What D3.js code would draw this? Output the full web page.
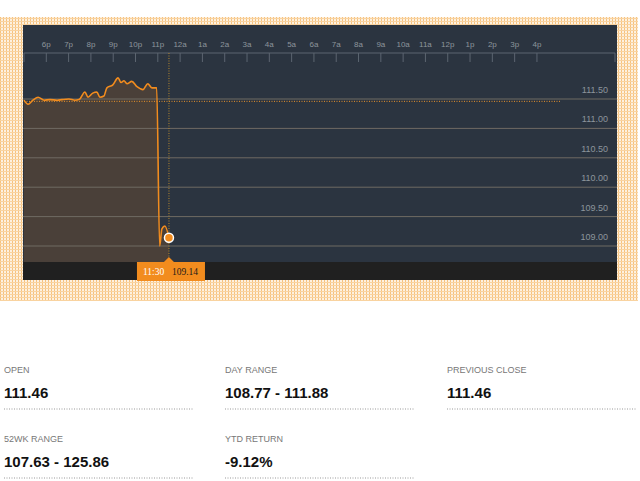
<!DOCTYPE html>
<html><head><meta charset="utf-8">
<script src="https://cdn.jsdelivr.net/npm/d3@7"></script>
<style>body{margin:0;background:#fff;font-family:"Helvetica Neue",Arial,"Liberation Sans",sans-serif}</style>
</head><body><div id="chart"></div>
<script>
// intraday prices (time, price)
var times = ["17:00","17:11","17:24","17:38","17:54","18:10","18:29","18:42","19:01","19:17","19:28","19:44","19:52","20:05","20:16","20:24","20:35","20:43","20:59","21:13","21:21","21:29","21:37","21:50","22:04","22:20","22:33","22:44","22:55","22:57","23:05","23:11","23:19","23:30"];
var prices = [111.48,111.41,111.48,111.53,111.48,111.49,111.48,111.49,111.50,111.48,111.49,111.62,111.53,111.60,111.62,111.53,111.55,111.69,111.74,111.86,111.78,111.81,111.76,111.80,111.71,111.66,111.76,111.69,111.69,111.69,109.00,109.29,109.34,109.14];
var hourLabels = ["6p","7p","8p","9p","10p","11p","12a","1a","2a","3a","4a","5a","6a","7a","8a","9a","10a","11a","12p","1p","2p","3p","4p"];
var yTicks = [109.0,109.5,110.0,110.5,111.0,111.5];
var prevClose = 111.46;
var statLabels = ["OPEN","DAY RANGE","PREVIOUS CLOSE","52WK RANGE","YTD RETURN"];
var statValues = ["111.46","108.77 - 111.88","111.46","107.63 - 125.86","-9.12%"];

var svg = d3.select("#chart").append("svg").attr("width",640).attr("height",481);

// dotted orange backdrop
var pat = svg.append("defs").append("pattern").attr("id","dots")
  .attr("width",3).attr("height",3).attr("patternUnits","userSpaceOnUse");
pat.append("rect").attr("width",3).attr("height",3).attr("fill","#fdf1e0");
pat.append("rect").attr("width",1).attr("height",3).attr("fill","#f7c27e");
pat.append("rect").attr("width",3).attr("height",1).attr("fill","#f9d3a0");
svg.append("rect").attr("x",0).attr("y",17).attr("width",638).attr("height",284).attr("fill","url(#dots)");

var pLeft = 23, pRight = 617, pTop = 25, pBottom = 280, plotBottom = 262;
svg.append("rect").attr("x",pLeft).attr("y",pTop).attr("width",pRight-pLeft).attr("height",pBottom-pTop).attr("fill","#2b3440");
svg.append("rect").attr("x",pLeft).attr("y",plotBottom).attr("width",pRight-pLeft).attr("height",pBottom-plotBottom).attr("fill","#202020");

var parse = d3.timeParse("%Y-%m-%d %H:%M");
function toDate(t){ var h=+t.split(":")[0]; return parse((h>=17?"2020-01-01 ":"2020-01-02 ")+t); }
var data = times.map(function(t,i){ return {t: toDate(t), v: prices[i]}; });

var x = d3.scaleTime().domain([parse("2020-01-01 17:00"), parse("2020-01-02 19:30")]).range([24, 615]);
var y = d3.scaleLinear().domain([109.0,111.5]).range([246,99]);

// hour ticks
var hours = hourLabels.map(function(d,i){ return d3.timeHour.offset(parse("2020-01-01 18:00"), i); });
svg.append("line").attr("x1",24).attr("x2",615).attr("y1",53).attr("y2",53).attr("stroke","#5c6570");
svg.selectAll(".tk").data([parse("2020-01-01 17:00")].concat(hours)).enter().append("line")
  .attr("x1",d=>x(d)).attr("x2",d=>x(d)).attr("y1",53).attr("y2",62).attr("stroke","#5c6570");
svg.append("line").attr("x1",615).attr("x2",615).attr("y1",53).attr("y2",62).attr("stroke","#5c6570");
svg.selectAll(".hl").data(hours).enter().append("text")
  .attr("x",d=>x(d)).attr("y",47).attr("text-anchor","middle")
  .attr("font-size",8).attr("fill","#8d949c").text((d,i)=>hourLabels[i]);

// area
svg.append("path").datum(data)
  .attr("d", d3.area().x(d=>x(d.t)).y0(plotBottom).y1(d=>y(d.v)))
  .attr("fill","#4a4039");

// grid
svg.selectAll(".gl").data(yTicks).enter().append("line")
  .attr("x1",pLeft).attr("x2",pRight).attr("y1",d=>y(d)).attr("y2",d=>y(d))
  .attr("stroke","#6f6a63").attr("stroke-width",1);
svg.selectAll(".yl").data(yTicks).enter().append("text")
  .attr("x",608).attr("y",d=>y(d)-6).attr("text-anchor","end")
  .attr("font-size",9).attr("fill","#8d949c").text(d=>d.toFixed(2));

// previous close
svg.append("line").attr("x1",24).attr("x2",560).attr("y1",y(prevClose)).attr("y2",y(prevClose))
  .attr("stroke","#e8912a").attr("stroke-dasharray","1,1.5").attr("stroke-width",1);

var last = data[data.length-1];
svg.append("line").attr("x1",x(last.t)).attr("x2",x(last.t)).attr("y1",53).attr("y2",plotBottom)
  .attr("stroke","#b5872f").attr("stroke-dasharray","1,1.5");

svg.append("path").datum(data)
  .attr("d", d3.line().x(d=>x(d.t)).y(d=>y(d.v)).curve(d3.curveMonotoneX))
  .attr("fill","none").attr("stroke","#f28c1e").attr("stroke-width",1.6);

svg.append("circle").attr("cx",x(last.t)).attr("cy",y(last.v)).attr("r",4.5)
  .attr("fill","#f28c1e").attr("stroke","#fff").attr("stroke-width",1.5);

// tooltip box
var bx = x(last.t);
svg.append("rect").attr("x",bx-32).attr("y",plotBottom).attr("width",68).attr("height",19).attr("fill","#f28c1e");
svg.append("path").attr("d",`M${bx-5},${plotBottom} L${bx},${plotBottom-5} L${bx+5},${plotBottom} Z`).attr("fill","#f28c1e");
svg.append("text").attr("x",bx-26).attr("y",plotBottom+13).attr("font-family","Liberation Serif,serif")
  .attr("font-size",9.5).attr("fill","#fff").text("11:30");
svg.append("text").attr("x",bx+3).attr("y",plotBottom+13).attr("font-family","Liberation Serif,serif")
  .attr("font-size",9.5).attr("fill","#1a1a1a").text(last.v.toFixed(2));

// stats
var colX = [4,225,447], rowY = [369,438];
statLabels.forEach(function(l,i){
  var cx = colX[i%3], ry = rowY[Math.floor(i/3)];
  svg.append("text").attr("x",cx).attr("y",ry+4).attr("font-size",9).attr("fill","#777").text(l);
  svg.append("text").attr("x",cx).attr("y",ry+29).attr("font-size",15).attr("font-weight","bold").attr("fill","#111").text(statValues[i]);
  svg.append("line").attr("x1",cx).attr("x2",cx+190).attr("y1",ry+40).attr("y2",ry+40)
    .attr("stroke","#999").attr("stroke-dasharray","1,1.5");
});
</script></body></html>
